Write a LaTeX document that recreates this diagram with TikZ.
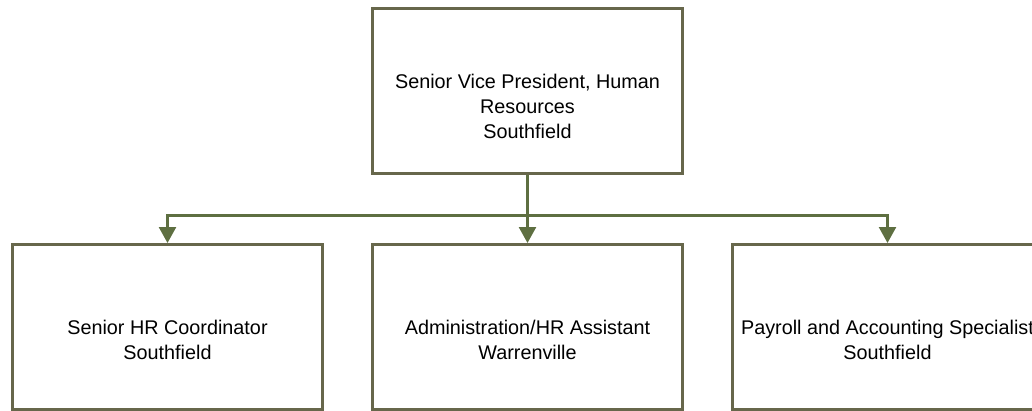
\documentclass[tikz,border=0pt]{standalone}
\usepackage{fontspec}
\setmainfont{Liberation Sans}
\usetikzlibrary{positioning,arrows.meta}

\definecolor{boxline}{HTML}{67674B}
\definecolor{linkline}{HTML}{5E6F41}

\begin{document}
\begin{tikzpicture} [x=1pt,y=1pt,
    unit/.style={draw=boxline,line width=3pt,rectangle,minimum width=310pt,minimum height=165pt},
    title/.style={align=center,font=\fontsize{19.8}{25}\selectfont},
    link/.style={draw=linkline,line width=2.5pt,-{Triangle[width=17pt,length=16pt]}}]
    \useasboundingbox (0,0) rectangle (1032,-410);

    \node[unit] (svp) at (527.5,-91) {};
    \node[unit] (hrc) at (167.5,-327) {};
    \node[unit] (admin) at (527.5,-327) {};
    \node[unit] (payroll) at (887.5,-327) {};

    \node[title] (svptext) at (527.5,-106) {Senior Vice President, Human\\Resources\\Southfield};
    \node[title] (hrctext) at (167.5,-340) {Senior HR Coordinator\\Southfield};
    \node[title] (admintext) at (527.5,-340) {Administration/HR Assistant\\Warrenville};
    \node[title] (payrolltext) at (887.5,-340) {Payroll and Accounting Specialist\\Southfield};

    \path[link] (svp.south) -- ++(0,-40.5) -| (hrc.north);
    \path[link] (svp.south) -- (admin.north);
    \path[link] (svp.south) -- ++(0,-40.5) -| (payroll.north);
\end{tikzpicture}
\end{document}
